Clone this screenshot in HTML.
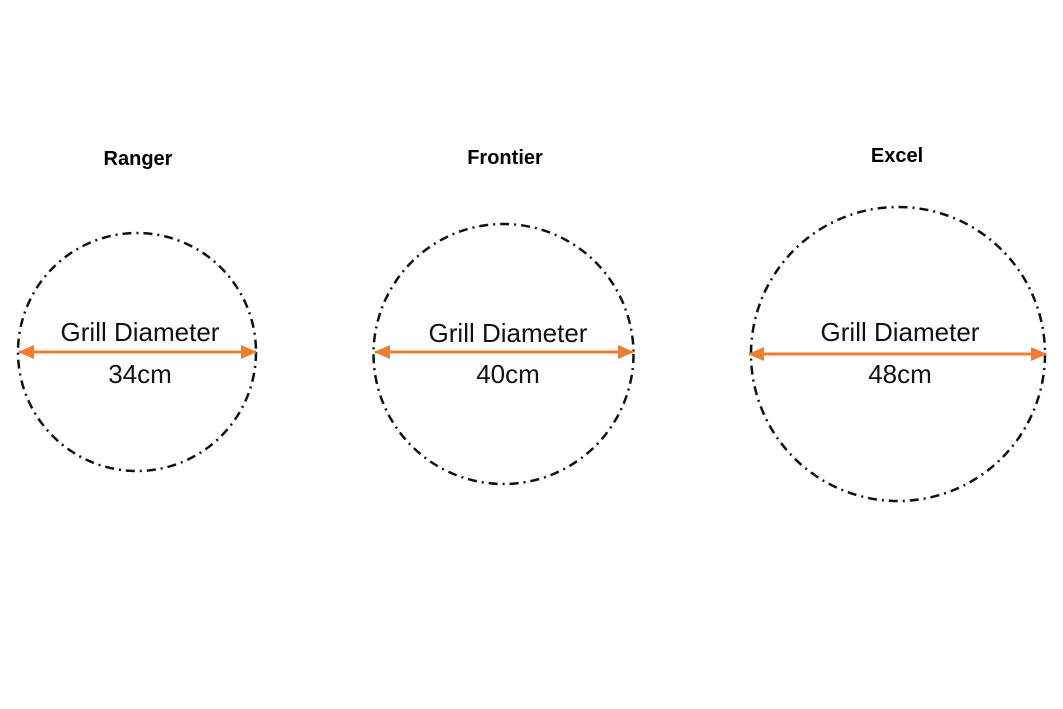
<!DOCTYPE html>
<html><head><meta charset="utf-8"><style>html,body{margin:0;padding:0;background:#fff}</style></head>
<body>
<svg width="1063" height="709" viewBox="0 0 1063 709" xmlns="http://www.w3.org/2000/svg" style="display:block">
<defs>
<marker id="b" markerWidth="16" markerHeight="14" refX="15" refY="7" orient="auto-start-reverse" markerUnits="userSpaceOnUse">
<path d="M0,0 L16,7 L0,14 z" fill="#ED7D31"/>
</marker>
</defs>
<g fill="none" stroke="#111" stroke-width="2.5" stroke-dasharray="9 5 2 5">
<circle cx="137" cy="352" r="119"/>
<circle cx="503.5" cy="354" r="130"/>
<circle cx="898" cy="354" r="147"/>
</g>
<g stroke="#ED7D31" stroke-width="3">
<line x1="19" y1="352" x2="256" y2="352" marker-start="url(#b)" marker-end="url(#b)"/>
<line x1="375" y1="352" x2="633" y2="352" marker-start="url(#b)" marker-end="url(#b)"/>
<line x1="749" y1="354" x2="1046" y2="354" marker-start="url(#b)" marker-end="url(#b)"/>
</g>
<g font-family="Liberation Sans, sans-serif" font-weight="bold" font-size="20" fill="#000" text-anchor="middle">
<text x="138" y="165">Ranger</text>
<text x="505" y="164">Frontier</text>
<text x="897" y="162">Excel</text>
</g>
<g font-family="Liberation Sans, sans-serif" font-size="26" fill="#111" text-anchor="middle">
<text x="140" y="341">Grill Diameter</text>
<text x="140" y="383">34cm</text>
<text x="508" y="342">Grill Diameter</text>
<text x="508" y="383">40cm</text>
<text x="900" y="341">Grill Diameter</text>
<text x="900" y="383">48cm</text>
</g>
</svg>
</body></html>
